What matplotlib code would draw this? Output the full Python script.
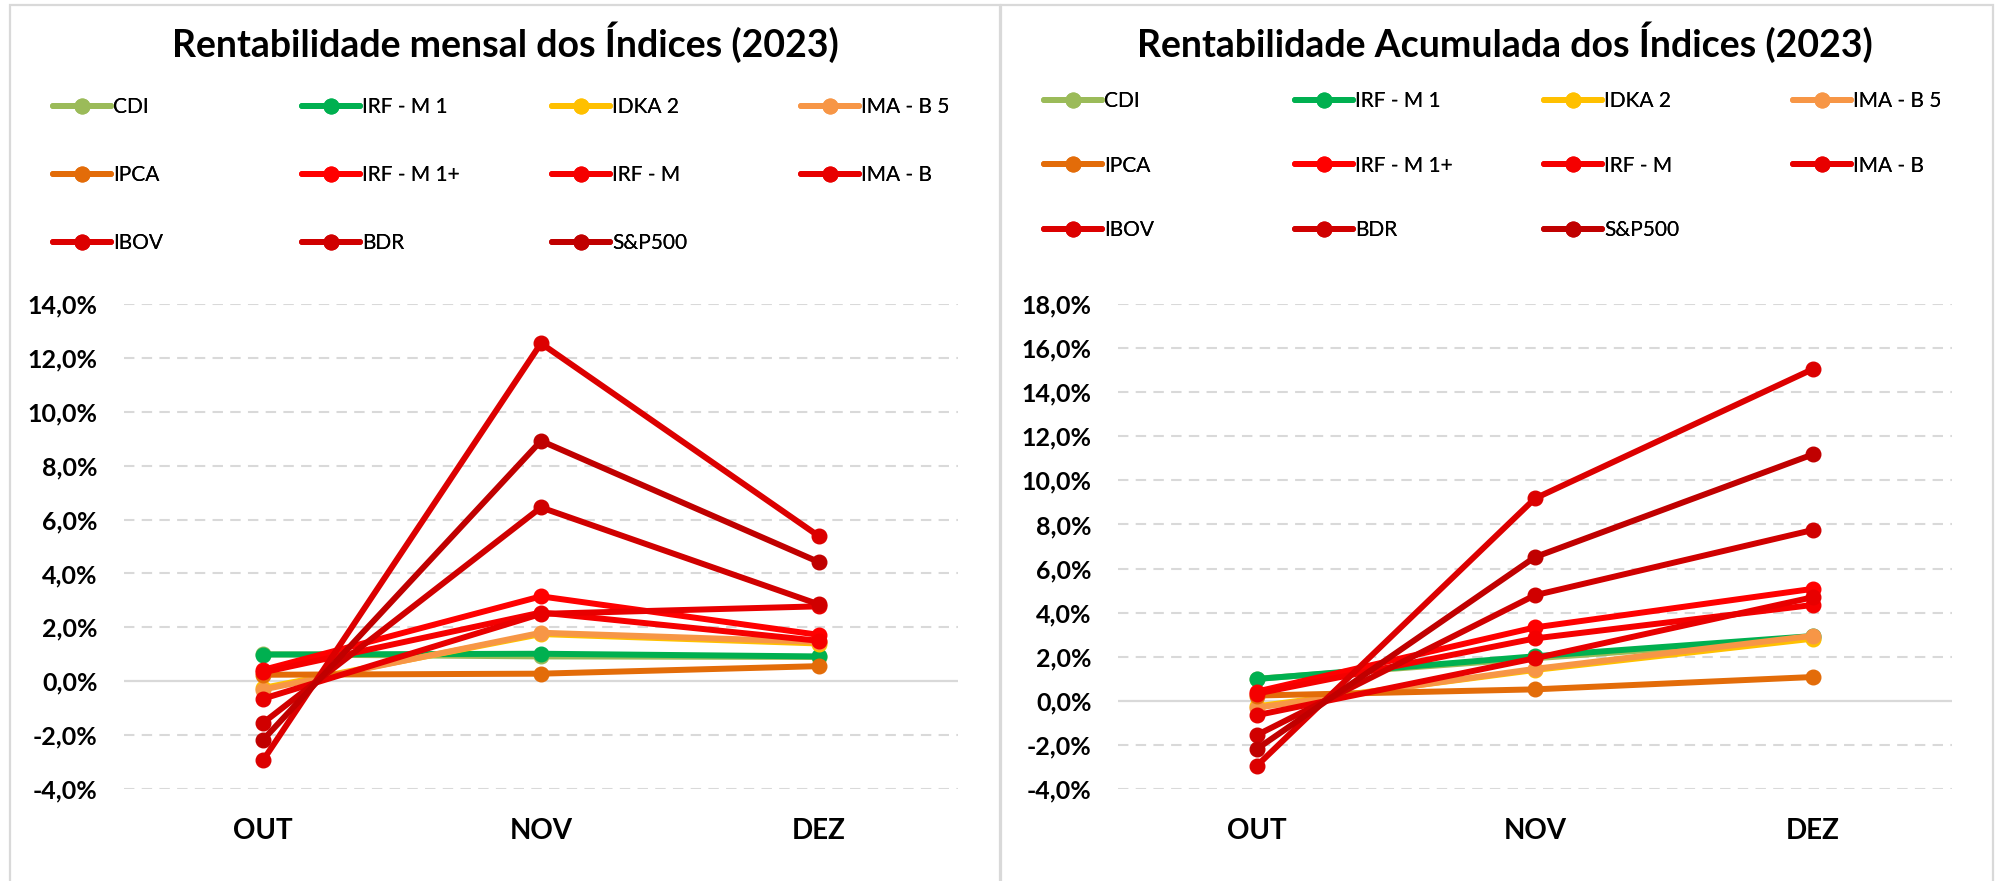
import matplotlib
matplotlib.use("Agg")
import matplotlib.pyplot as plt
from matplotlib.patches import Rectangle
from matplotlib.ticker import FuncFormatter

plt.rcParams['font.family'] = ['Lato', 'DejaVu Sans']

months = ['OUT', 'NOV', 'DEZ']
names = ['CDI', 'IRF - M 1', 'IDKA 2', 'IMA - B 5', 'IPCA', 'IRF - M 1+',
         'IRF - M', 'IMA - B', 'IBOV', 'BDR', 'S&P500']
colors = ['#9BBB59', '#00B050', '#FFC000', '#F79646', '#E36C09', '#FF0000',
          '#F50000', '#E80000', '#DC0000', '#D00000', '#C00000']

# rentabilidade mensal (%)
cdi_m = [1.00, 0.92, 0.90]
irfm1_m = [0.99, 1.02, 0.92]
idka2_m = [-0.25, 1.75, 1.40]
imab5_m = [-0.31, 1.80, 1.46]
ipca_m = [0.24, 0.28, 0.56]
irfm1p_m = [0.42, 3.15, 1.72]
irfm_m = [0.33, 2.55, 1.50]
imab_m = [-0.65, 2.50, 2.78]
ibov_m = [-2.94, 12.54, 5.38]
bdr_m = [-1.55, 6.45, 2.85]
sp500_m = [-2.18, 8.92, 4.42]

# rentabilidade acumulada (%)
cdi_a = [1.00, 1.93, 2.85]
irfm1_a = [0.99, 2.02, 2.94]
idka2_a = [-0.25, 1.40, 2.82]
imab5_a = [-0.31, 1.45, 2.95]
ipca_a = [0.24, 0.52, 1.08]
irfm1p_a = [0.42, 3.33, 5.08]
irfm_a = [0.33, 2.83, 4.35]
imab_a = [-0.65, 1.93, 4.70]
ibov_a = [-2.94, 9.18, 15.05]
bdr_a = [-1.55, 4.79, 7.75]
sp500_a = [-2.18, 6.52, 11.18]

mensal = [cdi_m, irfm1_m, idka2_m, imab5_m, ipca_m, irfm1p_m, irfm_m,
          imab_m, ibov_m, bdr_m, sp500_m]
acum = [cdi_a, irfm1_a, idka2_a, imab5_a, ipca_a, irfm1p_a, irfm_a,
        imab_a, ibov_a, bdr_a, sp500_a]

W, H = 2002, 881
fig = plt.figure(figsize=(W / 100, H / 100), dpi=100)

grid_c = '#D9D9D9'
pct = FuncFormatter(lambda v, p: ('%.1f%%' % v).replace('.', ','))


def panel(ax, series, ymin, ymax, title, tx, leg_x, leg_top, leg_sp):
    handles = []
    for vals, name, c in zip(series, names, colors):
        h, = ax.plot(range(len(months)), vals, color=c, lw=4.3, marker='o',
                     ms=10.5, label=name, solid_capstyle='round')
        handles.append(h)
    ax.set_xlim(-0.5, 2.5)
    ax.set_ylim(ymin, ymax)
    ax.set_yticks(range(ymin, ymax + 1, 2))
    ax.yaxis.set_major_formatter(pct)
    ax.set_xticks(range(len(months)))
    ax.set_xticklabels(months, fontsize=20, fontweight='bold')
    for lab in ax.get_yticklabels():
        lab.set_fontweight('bold')
    ax.tick_params(axis='y', length=0, labelsize=18, pad=19)
    ax.tick_params(axis='x', length=0, pad=21)
    for s in ax.spines.values():
        s.set_visible(False)
    for v in range(ymin, ymax + 1, 2):
        if v == 0:
            ax.axhline(0, color=grid_c, lw=1.6, zorder=0)
        else:
            ax.axhline(v, color=grid_c, lw=1.5, ls=(0, (5, 3.5)), zorder=0)
    fig.text(tx, 1 - 42 / H, title, ha='center', va='center', fontsize=27,
             fontweight='bold')
    for c in range(4):
        hs = handles[c::4]
        leg = fig.legend(handles=hs, labels=[h.get_label() for h in hs],
                         loc='upper left',
                         bbox_to_anchor=(leg_x[c] / W, 1 - leg_top / H),
                         bbox_transform=fig.transFigure, frameon=False,
                         fontsize=15, borderpad=0, borderaxespad=0,
                         handlelength=2.8, handletextpad=0.1,
                         labelspacing=leg_sp, numpoints=1)
        fig.add_artist(leg)


ax1 = fig.add_axes([124 / W, 1 - 789 / H, 834 / W, 485 / H])
panel(ax1, mensal, -4, 14, 'Rentabilidade mensal dos Índices (2023)',
      505 / W, [53, 302, 552, 801], 97, 2.31)

ax2 = fig.add_axes([1118 / W, 1 - 789 / H, 834 / W, 485 / H])
panel(ax2, acum, -4, 18, 'Rentabilidade Acumulada dos Índices (2023)',
      1505 / W, [1044, 1295, 1544, 1793], 91, 2.14)

# bordas dos dois quadros
fig.add_artist(Rectangle((10 / W, -0.05), 990 / W, 1.05 - 5 / H,
                         transform=fig.transFigure, fill=False,
                         ec=grid_c, lw=1.6))
fig.add_artist(Rectangle((1001 / W, -0.05), 992 / W, 1.05 - 5 / H,
                         transform=fig.transFigure, fill=False,
                         ec=grid_c, lw=1.6))

fig.savefig('out.png', dpi=100, facecolor='white')
